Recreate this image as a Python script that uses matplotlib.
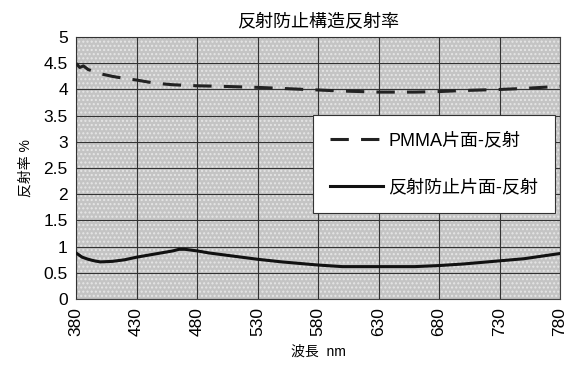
import numpy as np
import matplotlib.pyplot as plt
from matplotlib.patches import Rectangle

plt.rcParams['font.family'] = ['Liberation Sans', 'Noto Sans CJK JP', 'DejaVu Sans']

# wavelength grid (nm)
wl_pmma = [380, 383, 386, 390, 395, 400, 410, 420, 430, 440, 450, 460, 470, 480,
           500, 530, 560, 580, 600, 630, 660, 680, 700, 730, 750, 765, 780]
r_pmma = [4.5, 4.42, 4.45, 4.38, 4.34, 4.3, 4.25, 4.21, 4.18, 4.14, 4.11, 4.09, 4.08, 4.07,
          4.06, 4.04, 4.01, 3.99, 3.97, 3.95, 3.95, 3.96, 3.98, 4.0, 4.02, 4.04, 4.06]

wl_ar = [380, 385, 390, 395, 400, 410, 420, 430, 440, 450, 460, 465, 470, 480, 490,
         500, 510, 530, 550, 570, 580, 600, 630, 660, 680, 700, 730, 750, 780]
r_ar = [0.88, 0.8, 0.76, 0.73, 0.71, 0.72, 0.75, 0.8, 0.84, 0.88, 0.92, 0.95, 0.95, 0.92, 0.88,
        0.85, 0.82, 0.76, 0.71, 0.67, 0.65, 0.62, 0.62, 0.62, 0.64, 0.67, 0.73, 0.77, 0.87]

xticks = [380, 430, 480, 530, 580, 630, 680, 730, 780]
yticks = [0, 0.5, 1, 1.5, 2, 2.5, 3, 3.5, 4, 4.5, 5]

fig = plt.figure(figsize=(5.68, 3.67), dpi=100)
ax = fig.add_axes([0.134, 0.185, 0.852, 0.714])

# grey checker-like background
ax.set_facecolor('#c4c4c4')
ax.add_patch(Rectangle((0, 0), 1, 1, transform=ax.transAxes, facecolor='none',
                       edgecolor='#e6e6e6', hatch='....', linewidth=0, zorder=0))

ax.plot(wl_pmma, r_pmma, color='#222222', lw=2.2, dashes=(6, 4), label='PMMA片面-反射', zorder=3)
ax.plot(wl_ar, r_ar, color='#111111', lw=2.2, label='反射防止片面-反射', zorder=3)

ax.set_xlim(380, 780)
ax.set_ylim(0, 5)
ax.set_xticks(xticks)
ax.set_xticklabels([str(t) for t in xticks], rotation=90, fontsize=12.5)
ax.set_yticks(yticks)
ax.set_yticklabels(['0', '0.5', '1', '1.5', '2', '2.5', '3', '3.5', '4', '4.5', '5'], fontsize=12.5)
ax.tick_params(length=0, pad=6)
ax.grid(True, color='#333333', lw=0.8)
ax.set_axisbelow(False)
for s in ax.spines.values():
    s.set_color('#444444')
    s.set_linewidth(0.8)

ax.set_title('反射防止構造反射率', fontsize=13, pad=8)
ax.set_xlabel('波長  nm', fontsize=10, labelpad=6)
ax.set_ylabel('反射率 %', fontsize=10, labelpad=8)

leg = ax.legend(loc='upper left', bbox_to_anchor=(0.49, 0.702), borderaxespad=0,
                fontsize=13, handlelength=2.9, handletextpad=0.3, labelspacing=1.65,
                borderpad=0.95, fancybox=False, framealpha=1)
leg.get_frame().set_edgecolor('#333333')
leg.get_frame().set_linewidth(0.8)

fig.savefig('out.png', dpi=100)
